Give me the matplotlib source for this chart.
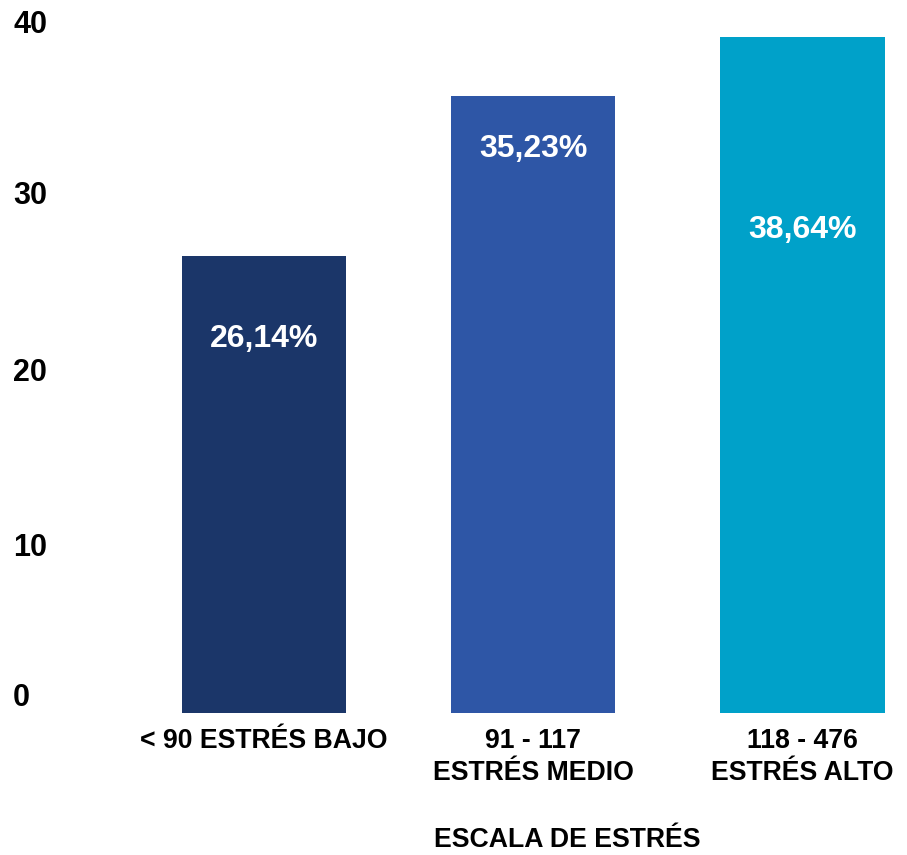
import matplotlib
matplotlib.use("Agg")
import matplotlib.pyplot as plt
import matplotlib.transforms as mtransforms

categories = ["< 90 ESTRÉS BAJO", "91 - 117\nESTRÉS MEDIO", "118 - 476\nESTRÉS ALTO"]
values = [26.14, 35.23, 38.64]
value_labels = ["26,14%", "35,23%", "38,64%"]
yticks = [0, 10, 20, 30, 40]

colors = ["#1b3669", "#2e56a6", "#00a1c9"]
label_y = [21.4, 32.2, 27.6]
# nudge (in points) for each y tick label, bottom to top
ytick_dy = [11, -7, -7, -6, -9]

plt.rcParams["font.family"] = ["Liberation Sans", "DejaVu Sans"]

fig = plt.figure(figsize=(9.07, 8.55), dpi=100)
ax = fig.add_axes([0.088, 0.166, 0.912, 0.834])

x = range(len(categories))
ax.bar(x, values, width=0.61, color=colors)

for xi, yi, txt in zip(x, label_y, value_labels):
    ax.text(xi, yi, txt, color="white", fontsize=23, fontweight="bold",
            ha="center", va="center")

ax.set_xlim(-0.684, 2.388)
ax.set_ylim(0, 40.74)

# y labels drawn by hand, left aligned near the figure edge
ax.set_yticks([])
ytrans = mtransforms.blended_transform_factory(fig.transFigure, ax.transData)
for t, dy in zip(yticks, ytick_dy):
    tr = ytrans + mtransforms.ScaledTranslation(0, dy / 72, fig.dpi_scale_trans)
    ax.text(13 / 907, t, str(t), transform=tr, fontsize=22, fontweight="bold",
            ha="left", va="center", clip_on=False)

ax.set_xticks(list(x))
ax.set_xticklabels(categories, fontsize=19.2, fontweight="bold",
                   linespacing=1.3, va="top")
ax.tick_params(axis="x", length=0, pad=11)
for s in ax.spines.values():
    s.set_visible(False)

fig.text(567 / 907, 1 - 840 / 855, "ESCALA DE ESTRÉS", fontsize=19.2,
         fontweight="bold", ha="center", va="center")

fig.savefig("out.png", dpi=100)
